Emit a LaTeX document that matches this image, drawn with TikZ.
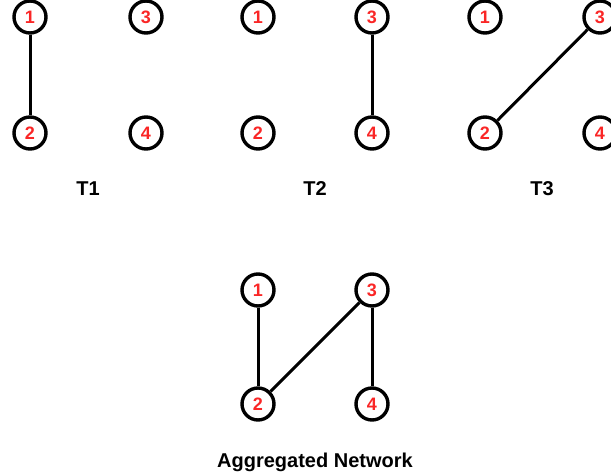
\documentclass[tikz,border=0pt]{standalone}
\usepackage{fontspec}
\setmainfont{Liberation Sans}
\definecolor{numred}{RGB}{250,38,38}
\begin{document}
\begin{tikzpicture}[x=1pt,y=-1pt,
  vtx/.style={circle,draw=black,line width=3.4pt,fill=white,minimum size=32pt,inner sep=0pt,
    font=\fontsize{18}{18}\selectfont\bfseries,text=numred},
  edge/.style={line width=3pt},
  lbl/.style={font=\fontsize{20}{20}\selectfont\bfseries,anchor=base}]
\useasboundingbox (0,0) rectangle (611,473);
% T1
\node[vtx] (a1) at (30,17) {1};
\node[vtx] (a2) at (30,133) {2};
\node[vtx] (a3) at (146,17) {3};
\node[vtx] (a4) at (146,133) {4};
\draw[edge] (a1) -- (a2);
\node[lbl] (t1) at (88,196) {T1};
% T2
\node[vtx] (b1) at (258,17) {1};
\node[vtx] (b2) at (258,133) {2};
\node[vtx] (b3) at (372,17) {3};
\node[vtx] (b4) at (372,133) {4};
\draw[edge] (b3) -- (b4);
\node[lbl] (t2) at (315,196) {T2};
% T3
\node[vtx] (c1) at (485,17) {1};
\node[vtx] (c2) at (485,133) {2};
\node[vtx] (c3) at (600,17) {3};
\node[vtx] (c4) at (600,133) {4};
\draw[edge] (c2) -- (c3);
\node[lbl] (t3) at (542,196) {T3};
% Aggregated
\node[vtx] (d1) at (258,290) {1};
\node[vtx] (d2) at (258,404) {2};
\node[vtx] (d3) at (372,290) {3};
\node[vtx] (d4) at (372,404) {4};
\draw[edge] (d1) -- (d2);
\draw[edge] (d2) -- (d3);
\draw[edge] (d3) -- (d4);
\node[lbl] (t4) at (315,467) {Aggregated Network};
\end{tikzpicture}
\end{document}
